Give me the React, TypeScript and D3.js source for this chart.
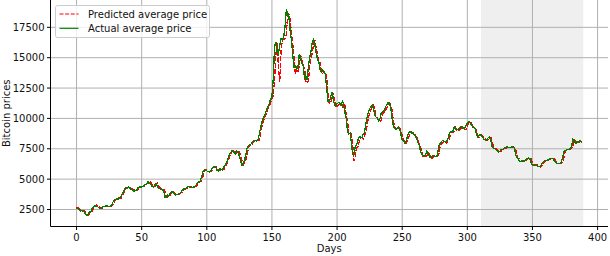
import React from 'react'
import * as d3 from 'd3'

const W = 610
const H = 256

// daily average price, day 0 .. 388 (one row per month)
const actualPrice = [
  2620, 2560, 2450, 2380, 2400, 2370, 2280, 2100, 1980, 2150, 2300, 2300, 2620, 2720, 2850, 2760, 2760, 2640, 2570, 2620, 2760, 2740, 2760, 2840,
  2760, 2720, 2780, 2880, 3120, 3260, 3320, 3420, 3370, 3390, 3560, 3800, 4000, 4230, 4250, 4330, 4350, 4220, 4150, 4120, 4020, 4050, 4110, 4260, 4350, 4340, 4370, 4370, 4480, 4580, 4650,
  4820, 4700, 4560, 4400, 4360, 4520, 4620, 4420, 4280, 4200, 4150, 4140, 3950, 3500, 3520, 3680, 3640, 3880, 3980, 3900, 3760, 3680, 3720, 3740, 3820, 3900, 4080, 4180, 4180, 4260,
  4360, 4400, 4350, 4280, 4300, 4350, 4400, 4560, 4700, 4780, 4820, 5200, 5580, 5760, 5720, 5680, 5620, 5590, 5660, 5880, 6020, 6010, 5960, 5700, 5660, 5830, 5820, 5760, 5980, 6140, 6320,
  6620, 6950, 7150, 7300, 7380, 7200, 7100, 7300, 7280, 6880, 6480, 6150, 6300, 6600, 7000, 7600, 7780, 7750, 7900, 8100, 8120, 8170, 8150, 8160, 8550, 9100, 9550, 9950, 10150, 10350,
  10800, 11000, 11250, 11600, 11800, 13200, 15900, 16300, 15500, 15300, 16000, 16600, 16500, 16700, 17500, 18900, 18700, 18400, 17200, 16400, 15200, 14200, 14300, 14100, 14200, 15300, 15000, 14500, 14400, 13300, 13500,
  13200, 14300, 15000, 15500, 16300, 16500, 16000, 15400, 14800, 14700, 14000, 13800, 14000, 13900, 13600, 12500, 11400, 11400, 11700, 12200, 11700, 11100, 11000, 11200, 11300, 11300, 11100, 11400, 11200, 10500, 10000,
  9000, 8700, 8800, 8000, 7000, 7000, 7700, 7800, 8200, 8500, 8500, 8400, 8700, 8800, 9500, 10100, 10500, 10800, 11000, 11100, 10800, 10300, 10100, 10000, 9800, 10000, 10500, 10550,
  10600, 10900, 11100, 11300, 11300, 11000, 10200, 9500, 9200, 9100, 9150, 9300, 9150, 8700, 8200, 8200, 8000, 8100, 8500, 8850, 8950, 8800, 8850, 8700, 8550, 8400, 8000, 7800, 7350, 7000, 6950,
  6900, 7000, 7300, 7100, 6850, 6750, 6850, 6950, 6850, 6850, 7000, 7700, 7950, 8050, 8200, 8150, 8050, 8100, 8300, 8650, 8900, 8900, 8950, 9300, 9100, 9100, 9050, 9200, 9350, 9300,
  9150, 9150, 9450, 9650, 9750, 9700, 9500, 9300, 9250, 9150, 8700, 8450, 8600, 8650, 8550, 8400, 8250, 8200, 8250, 8400, 8450, 8200, 7700, 7550, 7500, 7400, 7350, 7250, 7300, 7450, 7450,
  7520, 7580, 7650, 7600, 7580, 7620, 7650, 7630, 7580, 7100, 6750, 6700, 6500, 6450, 6550, 6500, 6500, 6600, 6700, 6750, 6700, 6350, 6150, 6150, 6200, 6150, 6100, 6000, 6050, 6250,
  6400, 6500, 6550, 6550, 6600, 6650, 6700, 6700, 6650, 6450, 6350, 6300, 6300, 6300, 6350, 6700, 7250, 7350, 7400, 7450, 7450, 7500, 7700, 8250, 8150, 8000, 8100, 8050, 8150, 8100, 8050,
]

const predictedPrice = [
  2680, 2640, 2580, 2470, 2400, 2420, 2380, 2300, 2120, 2000, 2170, 2310, 2320, 2600, 2740, 2870, 2780, 2770, 2660, 2580, 2630, 2780, 2750, 2770,
  2860, 2780, 2730, 2800, 2900, 3150, 3290, 3340, 3450, 3380, 3410, 3590, 3840, 4050, 4280, 4270, 4350, 4370, 4230, 4170, 4140, 4030, 4070, 4130, 4290, 4370, 4350, 4390, 4380, 4500, 4600,
  4680, 4850, 4720, 4580, 4420, 4380, 4540, 4640, 4430, 4300, 4220, 4170, 4160, 3970, 3530, 3540, 3700, 3660, 3900, 4000, 3920, 3780, 3700, 3740, 3760, 3840, 3920, 4100, 4200, 4190,
  4280, 4380, 4420, 4370, 4300, 4320, 4370, 4420, 4580, 4720, 4800, 4840, 5230, 5620, 5790, 5740, 5700, 5640, 5610, 5680, 5910, 6050, 6030, 5980, 5720, 5680, 5850, 5840, 5780, 6010, 6170,
  6350, 6650, 6980, 7180, 7330, 7400, 7220, 7120, 7330, 7300, 6900, 6500, 6170, 6320, 6620, 7030, 7640, 7800, 7770, 7930, 8130, 8140, 8190, 8170, 8180, 8580, 9140, 9600, 9990, 10180,
  10400, 10850, 11050, 11300, 11650, 11850, 13100, 15200, 16200, 14200, 13000, 15600, 16400, 16500, 16600, 16900, 18400, 18600, 18200, 17000, 16100, 15000, 13600, 14300, 13900, 14300, 15200, 14800, 14300, 14200, 13100,
  12900, 13100, 14200, 15000, 15400, 16200, 16400, 15800, 15200, 14600, 14600, 13800, 13700, 13900, 13800, 13400, 12200, 11200, 11300, 11600, 12100, 11500, 11000, 10900, 11100, 11200, 11200, 11000, 11300, 11100, 10300,
  9800, 8800, 8600, 8700, 7800, 6500, 6900, 7600, 7700, 8100, 8400, 8400, 8300, 8600, 8800, 9400, 10000, 10400, 10700, 10900, 11100, 10700, 10200, 10000, 9900, 9700, 9900, 10400,
  10500, 10550, 10850, 11050, 11250, 11200, 10800, 10000, 9400, 9100, 9050, 9150, 9250, 9050, 8600, 8100, 8150, 7950, 8100, 8450, 8800, 8900, 8750, 8800, 8650, 8500, 8300, 7900, 7700, 7250, 6900,
  6900, 6850, 6950, 7250, 7000, 6800, 6700, 6850, 6900, 6800, 6850, 7000, 7650, 7900, 8000, 8150, 8100, 8000, 8100, 8300, 8600, 8850, 8850, 8900, 9250, 9050, 9050, 9000, 9150, 9300,
  9250, 9100, 9100, 9400, 9600, 9700, 9650, 9450, 9250, 9200, 9100, 8650, 8450, 8600, 8650, 8500, 8400, 8250, 8200, 8250, 8400, 8450, 8150, 7700, 7550, 7500, 7400, 7350, 7250, 7300, 7450,
  7450, 7500, 7580, 7650, 7600, 7560, 7620, 7650, 7620, 7550, 7050, 6700, 6680, 6480, 6430, 6550, 6480, 6500, 6600, 6700, 6750, 6680, 6300, 6150, 6150, 6200, 6150, 6080, 5980, 6050,
  6250, 6400, 6500, 6550, 6550, 6600, 6650, 6700, 6700, 6650, 6450, 6350, 6300, 6300, 6300, 6350, 6700, 7250, 7350, 7400, 7450, 7450, 7500, 7700, 8250, 8150, 8000, 8100, 8050, 8150, 8100,
]

const xTicks = [0, 50, 100, 150, 200, 250, 300, 350, 400]
const yTicks = [2500, 5000, 7500, 10000, 12500, 15000, 17500]
const testSpan = [310.5, 389]
const seriesNames = ['Predicted average price', 'Actual average price']
const seriesColors = ['#ff0000', '#008000']

const font = 'DejaVu Sans'

export default function App() {
  const x = d3.scaleLinear().domain([-20, 408]).range([50.5, 608])
  const y = d3.scaleLinear().domain([1100, 19750]).range([226.5, 0])
  const [x0, x1] = x.range()
  const [yb, yt] = y.range()

  const line = d3.line<number>()
    .x((d, i) => x(i))
    .y(d => y(d))

  return (
    <div style={{position: 'fixed', left: 0, top: 0}}>
      <svg width={W} height={H} style={{display: 'block', background: '#fff'}} fontFamily={font}>
        {/* test period */}
        <rect x={x(testSpan[0])} y={yt} width={x(testSpan[1]) - x(testSpan[0])} height={yb - yt} fill="#efefef" />

        {/* grid */}
        {xTicks.map(t => (
          <line key={'gx' + t} x1={x(t)} x2={x(t)} y1={yt} y2={yb} stroke="#b0b0b0" strokeWidth={1} />
        ))}
        {yTicks.map(t => (
          <line key={'gy' + t} x1={x0} x2={x1} y1={y(t)} y2={y(t)} stroke="#b0b0b0" strokeWidth={1} />
        ))}

        {/* series */}
        <path d={line(predictedPrice) || ''} fill="none" stroke={seriesColors[0]} strokeWidth={1.3} strokeDasharray="5,1.5" shapeRendering="crispEdges" />
        <path d={line(actualPrice) || ''} fill="none" stroke={seriesColors[1]} strokeWidth={1.3} shapeRendering="crispEdges" />

        {/* spines */}
        <line x1={x0} x2={x0} y1={yt} y2={yb} stroke="#000" strokeWidth={1} />
        <line x1={x0} x2={x1} y1={yb} y2={yb} stroke="#000" strokeWidth={1} />

        {/* x axis */}
        {xTicks.map(t => (
          <g key={'tx' + t}>
            <line x1={x(t)} x2={x(t)} y1={yb} y2={yb + 3.5} stroke="#000" />
            <text x={x(t)} y={yb + 14} textAnchor="middle" fontSize={10} fill="#111">{t}</text>
          </g>
        ))}
        <text x={(x0 + x1) / 2} y={252} textAnchor="middle" fontSize={10} fill="#111">Days</text>

        {/* y axis */}
        {yTicks.map(t => (
          <g key={'ty' + t}>
            <line x1={x0 - 3.5} x2={x0} y1={y(t)} y2={y(t)} stroke="#000" />
            <text x={x0 - 6} y={y(t) + 3.6} textAnchor="end" fontSize={10} fill="#111">{t}</text>
          </g>
        ))}
        <text transform={`translate(10,${(yt + yb) / 2}) rotate(-90)`} textAnchor="middle" fontSize={10} fill="#111">Bitcoin prices</text>

        {/* legend */}
        <rect x={55.5} y={5.5} width={154} height={32} rx={2} fill="#fff" fillOpacity={0.8} stroke="#cccccc" />
        {seriesNames.map((name, i) => (
          <g key={name}>
            <line x1={59.5} x2={78.5} y1={14 + i * 14.3} y2={14 + i * 14.3} stroke={seriesColors[i]} strokeWidth={1.2} strokeDasharray={i === 0 ? '4,1.6' : undefined} />
            <text x={88} y={17.6 + i * 14.3} fontSize={10} fill="#111">{name}</text>
          </g>
        ))}
      </svg>
    </div>
  )
}
